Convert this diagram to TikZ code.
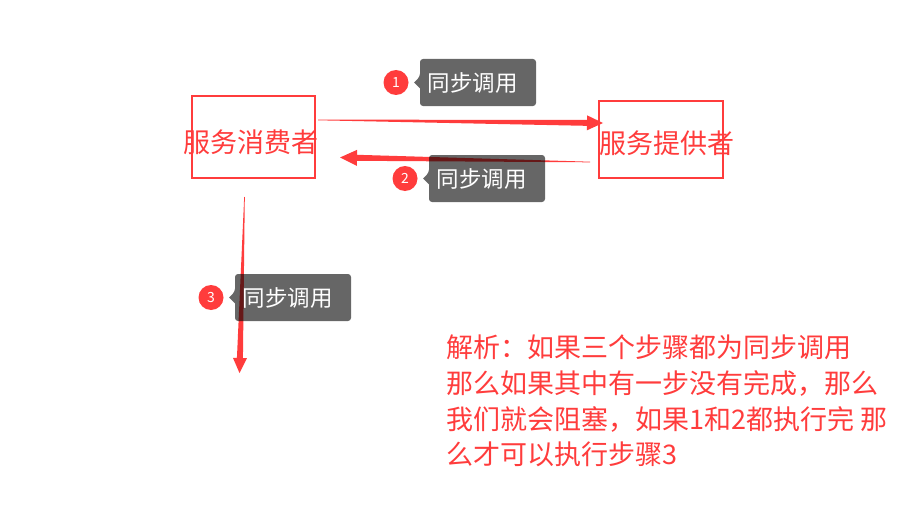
\documentclass[tikz,border=0pt]{standalone}
\usepackage{fontspec}
\setmainfont{Noto Sans CJK SC}
\usetikzlibrary{calc}
\definecolor{myred}{RGB}{255,60,60}
\newcommand\taperarrow[5]{% start, tip, head length, head half width, shaft half width at head
  \path ($(#2)!#3!(#1)$) coordinate (#2-base);
  \fill[myred] ($(#1)!0.3pt!90:(#2)$) -- ($(#2-base)!#5!90:(#2)$) -- ($(#2-base)!#4!90:(#2)$) -- (#2)
    -- ($(#2-base)!#4!-90:(#2)$) -- ($(#2-base)!#5!-90:(#2)$) -- ($(#1)!0.3pt!-90:(#2)$) -- cycle;
}
\begin{document}
\begin{tikzpicture}[x=1pt,y=-1pt,
  redbox/.style={draw=myred, line width=2.9pt, inner sep=0pt},
  boxtext/.style={text=myred, inner sep=0pt, font=\fontsize{27pt}{32pt}\selectfont, anchor=base},
  notetext/.style={text=myred, inner sep=0pt, font=\fontsize{27pt}{32pt}\selectfont, anchor=base west},
  tagfill/.style={fill=black, fill opacity=0.6},
  tagtext/.style={text=white, inner sep=0pt, font=\fontsize{22.5pt}{26pt}\selectfont, anchor=base west},
  numcircle/.style={circle, fill=myred, text=white, inner sep=0pt, minimum size=25pt, font=\fontsize{14pt}{16pt}\selectfont},
  tagbox/.pic={
    \fill[tagfill, rounded corners=3pt] (58,-23.5) -- (0,-23.5) -- (0,-6) [sharp corners] -- (-6,0) -- (0,6) [rounded corners=3pt] -- (0,23.5) -- (116,23.5) -- (116,-23.5) -- cycle;
    \node[tagtext] (-text) at (7.5,9) {同步调用};
    \node[numcircle] (-num) at (-24,0) {#1};
  }]
\useasboundingbox (0,0) rectangle (908,511);
\fill[white] (0,0) rectangle (908,511);

% boxes
\node[redbox, minimum width=123pt, minimum height=82pt] (consumer) at (253.5,137) {};
\node[redbox, minimum width=124pt, minimum height=77pt] (provider) at (661,139.5) {};
\node[boxtext] (consumertext) at (251,152) {服务消费者};
\node[boxtext] (providertext) at (667,153) {服务提供者};

% arrows
\coordinate (a1s) at (318,120);
\coordinate (a1e) at (603,123);
\coordinate (a2s) at (590,162);
\coordinate (a2e) at (340,157.5);
\coordinate (a3s) at (244.5,197);
\coordinate (a3e) at (239.5,373);
\taperarrow{a1s}{a1e}{16pt}{7.5pt}{3pt}
\taperarrow{a2s}{a2e}{17pt}{8pt}{3pt}
\taperarrow{a3s}{a3e}{15pt}{7pt}{3pt}

% labels
\pic (t1) at (420,82.5) {tagbox=1};
\pic (t2) at (429,178.5) {tagbox=2};
\pic (t3) at (235,297.5) {tagbox=3};

% note
\node[notetext] (note1) at (446,357.5) {解析：如果三个步骤都为同步调用};
\node[notetext] (note2) at (446,393) {那么如果其中有一步没有完成，那么};
\node[notetext] (note3) at (446,429) {我们就会阻塞，如果1和2都执行完 那};
\node[notetext] (note4) at (446,464.5) {么才可以执行步骤3};
\end{tikzpicture}
\end{document}
